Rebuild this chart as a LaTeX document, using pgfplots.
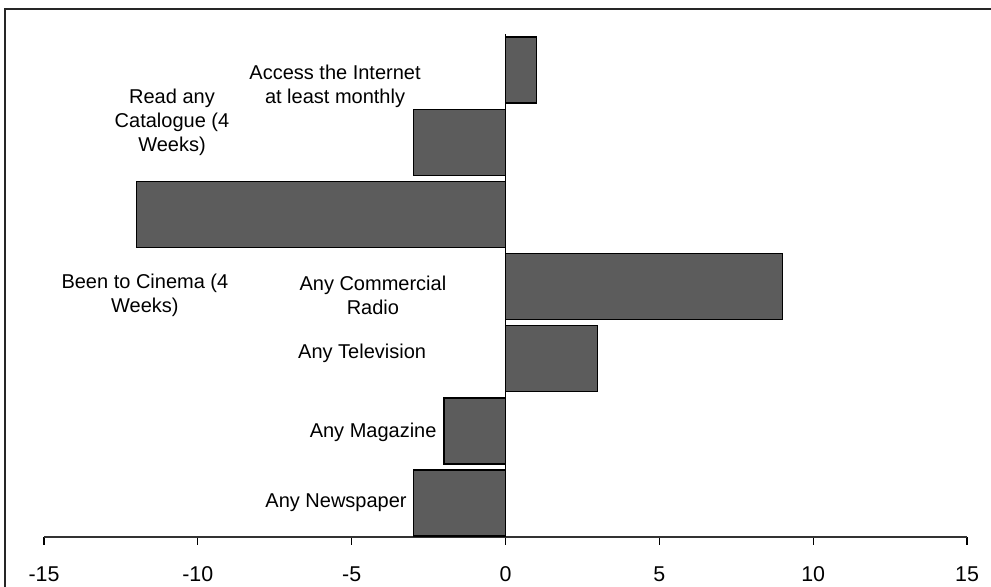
\documentclass[border=0pt]{standalone}
\usepackage{pgfplots}
\pgfplotsset{compat=1.18}
\usepackage{fontspec}
\setmainfont{Liberation Sans}
\begin{document}
\begin{tikzpicture}[x=1pt,y=1pt]
\useasboundingbox (0,0) rectangle (495.5,293.5);
% chart frame
\draw[line width=1pt, black!85] (2.5,-5) -- (2.5,289) -- (500,289);
\begin{axis}[
  at={(22pt,25pt)}, anchor=south west,
  scale only axis, width=461.5pt, height=251.5pt,
  xmin=-15, xmax=15, ymin=-0.47, ymax=6.5,
  axis x line=bottom, axis y line=none,
  x axis line style={-, line width=0.9pt, black!80},
  xtick={-15,-10,-5,0,5,10,15}, ytick=\empty,
  tick align=outside, major tick length=4pt,
  tick style={black, line width=0.6pt},
  /pgf/number format/assume math mode=true,
  xticklabel style={font=\fontsize{10.7}{12}\selectfont, anchor=base, yshift=-18.4pt},
  clip=false,
  every node/.append style={font=\fontsize{10.7}{12}\selectfont},
]
\addplot[xbar, bar width=33pt, fill=black!64, draw=black, line width=0.6pt]
  coordinates {(-3,0) (-2,1) (3,2) (9,3) (-12,4) (-3,5) (1,6)};
\draw[black, line width=0.7pt] (axis cs:0,-0.47) -- (axis cs:0,6.5);
\node[align=center, inner sep=0pt] at (axis cs:-5.54,5.78) {Access the Internet\\at least monthly};
\node[align=center, inner sep=0pt] at (axis cs:-10.84,5.28) {Read any\\Catalogue (4\\Weeks)};
\node[align=center, inner sep=0pt] at (axis cs:-11.72,2.885) {Been to Cinema (4\\Weeks)};
\node[align=center, inner sep=0pt] at (axis cs:-4.31,2.885) {Any Commercial\\Radio};
\node[inner sep=0pt] at (axis cs:-4.66,2.07) {Any Television};
\node[inner sep=0pt, anchor=east] at (axis cs:-2.23,0.985) {Any Magazine};
\node[inner sep=0pt, anchor=east] at (axis cs:-3.20,0) {Any Newspaper};
\end{axis}
\end{tikzpicture}
\end{document}
